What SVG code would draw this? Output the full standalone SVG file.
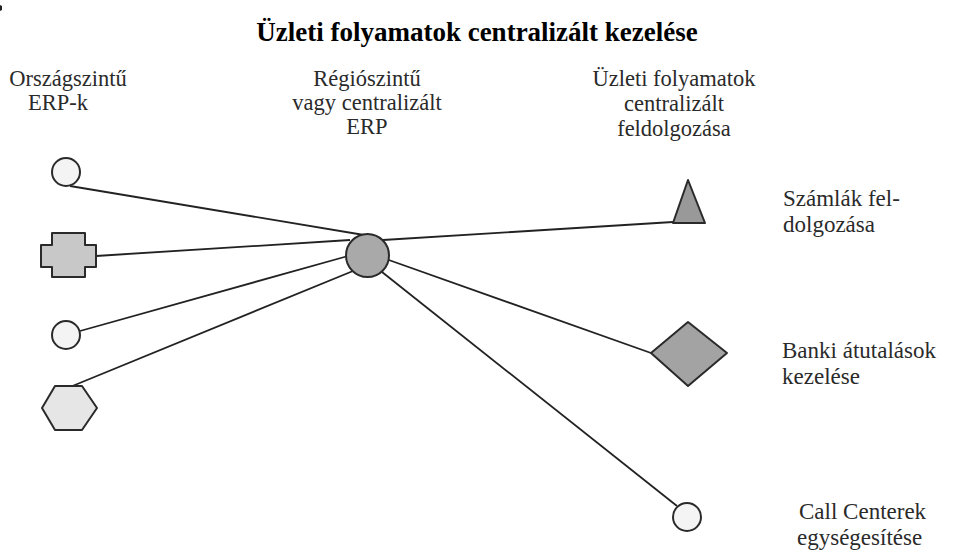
<svg xmlns="http://www.w3.org/2000/svg" width="953" height="551" viewBox="0 0 953 551">
<style>
.title{font-family:"Liberation Serif","Times New Roman",serif;font-weight:bold;font-size:27px;fill:#000}
.lbl{font-family:"Liberation Serif","Times New Roman",serif;font-size:22.5px;fill:#2a2a2a}
.rl{font-family:"Liberation Serif","Times New Roman",serif;font-size:23px;fill:#2a2a2a}
.shape{stroke:#2a2a2a;stroke-width:2;stroke-linejoin:round}
.conn line{stroke:#222;stroke-width:1.8}
</style>
<rect width="953" height="551" fill="#fff"/>
<path d="M0 5 L2 6 L2 10 L0 11 Z" fill="#222"/>
<text class="title" x="477" y="41" text-anchor="middle">Üzleti folyamatok centralizált kezelése</text>
<g id="hdr-left">
<text class="lbl" x="68" y="86" text-anchor="middle">Országszintű</text>
<text class="lbl" x="58" y="110" text-anchor="middle">ERP-k</text>
</g>
<g id="hdr-center">
<text class="lbl" x="367" y="86" text-anchor="middle">Régiószintű</text>
<text class="lbl" x="367" y="110" text-anchor="middle">vagy centralizált</text>
<text class="lbl" x="367" y="134" text-anchor="middle">ERP</text>
</g>
<g id="hdr-right">
<text class="lbl" x="674" y="86" text-anchor="middle">Üzleti folyamatok</text>
<text class="lbl" x="674" y="111" text-anchor="middle">centralizált</text>
<text class="lbl" x="674" y="136" text-anchor="middle">feldolgozása</text>
</g>
<g class="conn" id="connectors">
<line x1="70" y1="186" x2="364" y2="235"/>
<line x1="96" y1="256" x2="350" y2="240"/>
<line x1="80" y1="331" x2="348" y2="256"/>
<line x1="70" y1="387" x2="353" y2="271"/>
<line x1="673" y1="222" x2="383" y2="240"/>
<line x1="651" y1="353" x2="386" y2="259"/>
<line x1="677" y1="506" x2="382" y2="272"/>
</g>
<g id="n-circle1"><circle class="shape" cx="66" cy="172" r="14" fill="#f4f4f4"/></g>
<g id="n-cross"><polygon class="shape" fill="#c8c8c8" points="52,233 85,233 85,245 96,245 96,267 85,267 85,277 52,277 52,267 41,267 41,245 52,245"/></g>
<g id="n-circle2"><circle class="shape" cx="66" cy="335" r="14" fill="#f4f4f4"/></g>
<g id="n-hex"><polygon class="shape" fill="#e6e6e6" points="55,386 82,386 97,408 82,430 55,430 42,408"/></g>
<g id="n-center"><circle class="shape" cx="367.5" cy="255.5" r="21.5" fill="#a9a9a9"/></g>
<g id="n-triangle"><polygon class="shape" fill="#999" points="688,180 705,223 673,223"/></g>
<g id="n-diamond"><polygon class="shape" fill="#a3a3a3" points="688,322 727,353 688,386 651,353"/></g>
<g id="n-circle3"><circle class="shape" cx="687" cy="517" r="14" fill="#f4f4f4"/></g>
<g id="lbl-szamlak">
<text class="rl" x="783" y="206">Számlák fel-</text>
<text class="rl" x="783" y="232">dolgozása</text>
</g>
<g id="lbl-banki">
<text class="rl" x="782" y="358">Banki átutalások</text>
<text class="rl" x="782" y="384">kezelése</text>
</g>
<g id="lbl-call">
<text class="rl" x="799" y="519">Call Centerek</text>
<text class="rl" x="797" y="545">egységesítése</text>
</g>
</svg>
